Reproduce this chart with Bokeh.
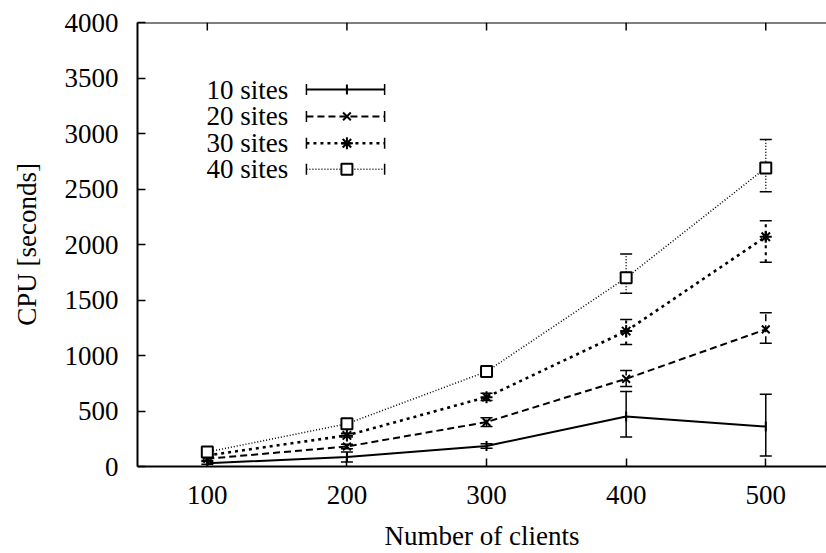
import math
from bokeh.plotting import figure
from bokeh.models import FixedTicker, Range1d, Whisker, ColumnDataSource, TeeHead, Span
from bokeh.core.properties import value
from bokeh.embed import file_html
from bokeh.resources import INLINE

clients = [100, 200, 300, 400, 500]
series_names = ["10 sites", "20 sites", "30 sites", "40 sites"]
cpu_10 = [30, 85, 185, 450, 360]
lo_10 = [20, 40, 165, 265, 95]
hi_10 = [45, 130, 205, 675, 650]
cpu_20 = [70, 180, 400, 790, 1235]
lo_20 = [55, 160, 360, 720, 1110]
hi_20 = [85, 200, 440, 865, 1385]
cpu_30 = [100, 280, 625, 1220, 2070]
lo_30 = [85, 265, 595, 1100, 1840]
hi_30 = [115, 300, 660, 1325, 2215]
cpu_40 = [130, 385, 855, 1700, 2690]
lo_40 = [110, 370, 830, 1560, 2475]
hi_40 = [150, 400, 880, 1915, 2945]
x_ticks = [100, 200, 300, 400, 500]
y_ticks = [0, 500, 1000, 1500, 2000, 2500, 3000, 3500, 4000]

FONT = "Liberation Serif"
FS = "27px"
Y_MAX = 4000
FRAME_H = 446

p = figure(width=826, height=553, output_backend="svg", toolbar_location=None,
           x_range=Range1d(50, 543.5), y_range=Range1d(0, Y_MAX),
           min_border_left=137, min_border_right=0, min_border_top=22, min_border_bottom=85)
p.outline_line_color = None
p.xgrid.visible = False
p.ygrid.visible = False
p.background_fill_color = "white"

for ax in (p.xaxis[0], p.yaxis[0]):
    ax.axis_line_width = 2
    ax.major_tick_in = 8
    ax.major_tick_out = 0
    ax.minor_tick_line_color = None
    ax.major_tick_line_width = 1.5
    ax.major_label_text_font = FONT
    ax.major_label_text_font_size = FS
    ax.major_label_text_color = "black"
    ax.axis_label_text_font = FONT
    ax.axis_label_text_font_size = FS
    ax.axis_label_text_font_style = "normal"
    ax.axis_label_text_color = "black"

p.xaxis.ticker = FixedTicker(ticks=x_ticks)
p.yaxis.ticker = FixedTicker(ticks=y_ticks)
p.xaxis.axis_label = "Number of clients"
p.yaxis.axis_label = "CPU [seconds]"
p.xaxis.major_label_standoff = 19
p.xaxis.axis_label_standoff = 14
p.yaxis.major_label_standoff = 19
p.yaxis.axis_label_standoff = 20

# top border with inward ticks (mirrored x ticks)
p.add_layout(Span(location=Y_MAX, dimension="width", line_color="black", line_width=2))
tick_len = 8 / FRAME_H * Y_MAX
p.segment(x0=x_ticks, y0=[Y_MAX] * len(x_ticks), x1=x_ticks, y1=[Y_MAX - tick_len] * len(x_ticks),
          line_color="black", line_width=1.5)

styles = [
    dict(dash="solid", width=2.0, marker="dash", msize=10, angle=math.pi / 2),
    dict(dash="7 4", width=2.0, marker="x", msize=11, angle=0),
    dict(dash="3 4", width=2.6, marker="asterisk", msize=12, angle=0),
    dict(dash="1 2", width=1.5, marker="square", msize=11, angle=0),
]
data = [(cpu_10, lo_10, hi_10), (cpu_20, lo_20, hi_20), (cpu_30, lo_30, hi_30), (cpu_40, lo_40, hi_40)]

for (ys, lo, hi), st in zip(data, styles):
    src = ColumnDataSource(dict(x=clients, y=ys, lo=lo, hi=hi))
    p.line("x", "y", source=src, line_color="black", line_width=st["width"], line_dash=st["dash"])
    w = Whisker(base="x", lower="lo", upper="hi", source=src, dimension="height",
                line_color="black", line_width=max(1.5, st["width"] - 0.5), line_dash=st["dash"],
                upper_head=TeeHead(size=12, line_width=1.5, line_color="black"),
                lower_head=TeeHead(size=12, line_width=1.5, line_color="black"))
    p.add_layout(w)
    p.scatter("x", "y", source=src, marker=st["marker"], size=st["msize"], angle=st["angle"],
              line_color="black", fill_color="white" if st["marker"] == "square" else "black",
              line_width=2)

# legend (label left, sample right), placed in data units
leg_text_x = 158
leg_x0, leg_x1, leg_xm = 171, 227, 200
leg_rows = [3396, 3154, 2912, 2679]
p.text(x=[leg_text_x] * 4, y=leg_rows, text=series_names, text_align="right", text_baseline="middle",
       text_font=value(FONT), text_font_size=FS, text_color="black")
for yv, st in zip(leg_rows, styles):
    p.segment(x0=[leg_x0], y0=[yv], x1=[leg_x1], y1=[yv], line_color="black",
              line_width=st["width"], line_dash=st["dash"])
    p.scatter(x=[leg_x0, leg_x1], y=[yv, yv], marker="dash", angle=math.pi / 2, size=11,
              line_color="black", line_width=1.5)
    p.scatter(x=[leg_xm], y=[yv], marker=st["marker"], size=st["msize"], angle=st["angle"],
              line_color="black", fill_color="white" if st["marker"] == "square" else "black",
              line_width=2)

open("out.html", "w").write(file_html(p, INLINE))
